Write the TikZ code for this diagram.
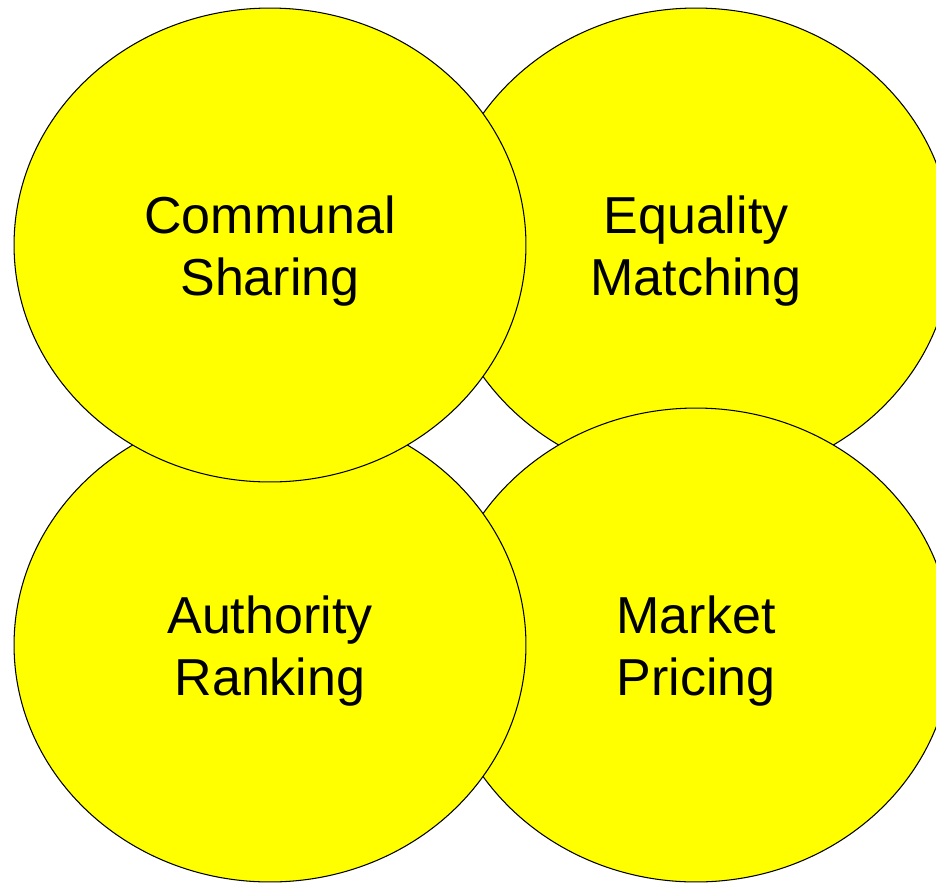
\documentclass[tikz,border=0pt]{standalone}
\usepackage{fontspec}
\setmainfont{Liberation Sans}
\usetikzlibrary{shapes.geometric,positioning}

\definecolor{bubbleyellow}{RGB}{255,255,0}

\tikzset{
    relbubble/.style={ellipse,draw=black,line width=0.6pt,fill=bubbleyellow,
        minimum width=10.24cm,minimum height=9.48cm,inner sep=0pt},
    bubbletext/.style={align=center,inner sep=0pt,
        font=\fontsize{29.6}{35.6}\selectfont}
}

\begin{document}
\begin{tikzpicture}[x=0.02cm,y=-0.02cm]

        % --- frame (pixels of the picture) ---
        \useasboundingbox (0,0) rectangle (936,883);
        \clip (0,0) rectangle (936,883);

        % --- the four relational models, back to front ---
        \node[relbubble] (em) at (696,245) {};
        \node[relbubble] (mp) at (696,645) {};
        \node[relbubble] (ar) at (270,645) {};
        \node[relbubble] (cs) at (270,245) {};

        % --- names ---
        \node[bubbletext] (em-name) at (696,251) {Equality\\Matching};
        \node[bubbletext] (mp-name) at (696,651) {Market\\Pricing};
        \node[bubbletext] (ar-name) at (270,651) {Authority\\Ranking};
        \node[bubbletext] (cs-name) at (270,251) {Communal\\Sharing};

\end{tikzpicture}
\end{document}
